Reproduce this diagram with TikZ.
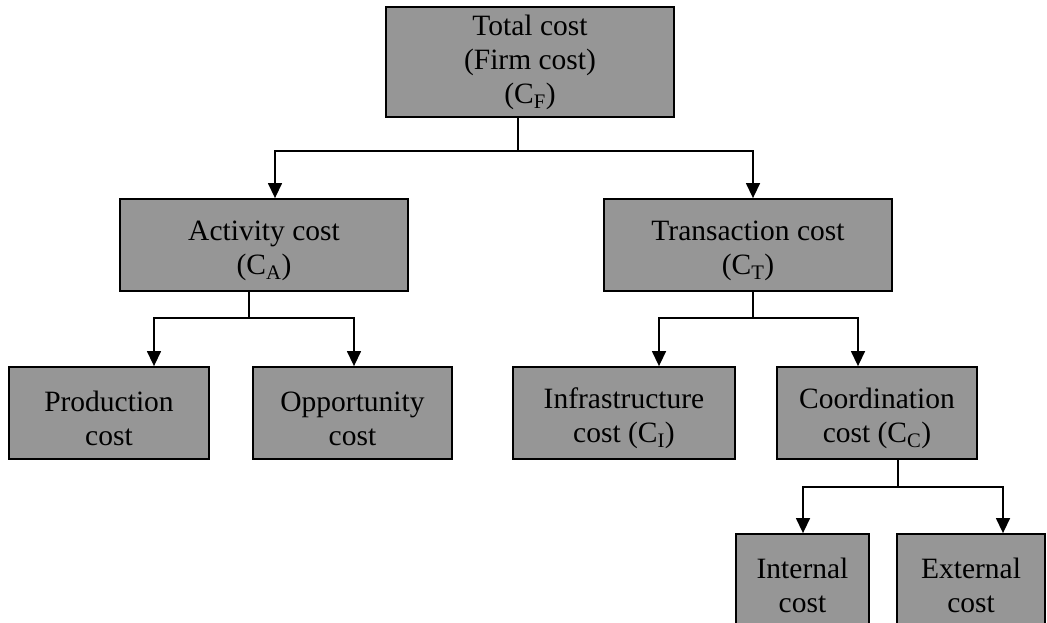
\documentclass[tikz,border=0pt]{standalone}
\usepackage{fontspec}
\setmainfont{Liberation Serif}
\usetikzlibrary{arrows.meta}
\definecolor{boxgray}{RGB}{150,150,150}
\newcommand{\lowstrut}{\rule{0pt}{32pt}}

\begin{document}
\begin{tikzpicture}[x=1pt, y=-1pt,
    costbox/.style={draw=black, line width=1.8pt, fill=boxgray, align=center, inner sep=0pt, font=\fontsize{29.5}{34}\selectfont},
    link/.style={line width=1.4pt},
    arr/.style={line width=1.4pt, -{Triangle[length=15pt, width=14pt]}}]
    \useasboundingbox (0,0) rectangle (1047,623);

    % boxes
    \node[costbox, minimum width=288, minimum height=110] (total) at (530,62) {Total cost\\(Firm cost)\\(C\textsubscript{F})};

    \node[costbox, minimum width=288, minimum height=92] (act) at (264,245) {\lowstrut Activity cost\\(C\textsubscript{A})};
    \node[costbox, minimum width=288, minimum height=92] (trans) at (748,245) {\lowstrut Transaction cost\\(C\textsubscript{T})};

    \node[costbox, minimum width=200, minimum height=92] (prod) at (109,413) {\lowstrut Production\\cost};
    \node[costbox, minimum width=199, minimum height=92] (opp) at (352.5,413) {\lowstrut Opportunity\\cost};
    \node[costbox, minimum width=222, minimum height=92] (infra) at (624,413) {\lowstrut Infrastructure\\cost (C\textsubscript{I})};
    \node[costbox, minimum width=200, minimum height=92] (coord) at (877,413) {\lowstrut Coordination\\cost (C\textsubscript{C})};

    \node[costbox, minimum width=133, minimum height=92] (intl) at (802.5,580) {\lowstrut Internal\\cost};
    \node[costbox, minimum width=148, minimum height=92] (extl) at (971,580) {\lowstrut External\\cost};

    % connectors
    \coordinate (j0) at (518,151);
    \draw[link] (j0 |- total.south) -- (j0);
    \draw[arr] (j0) -| ([xshift=11]act.north);
    \draw[arr] (j0) -| ([xshift=5]trans.north);

    \coordinate (j1) at (249,318);
    \draw[link] (j1 |- act.south) -- (j1);
    \draw[arr] (j1) -| ([xshift=45]prod.north);
    \draw[arr] (j1) -| ([xshift=1.5]opp.north);

    \coordinate (j2) at (753,318);
    \draw[link] (j2 |- trans.south) -- (j2);
    \draw[arr] (j2) -| ([xshift=35]infra.north);
    \draw[arr] (j2) -| ([xshift=-19]coord.north);

    \coordinate (j3) at (898,487);
    \draw[link] (j3 |- coord.south) -- (j3);
    \draw[arr] (j3) -| ([xshift=0.5]intl.north);
    \draw[arr] (j3) -| ([xshift=32]extl.north);

\end{tikzpicture}
\end{document}
